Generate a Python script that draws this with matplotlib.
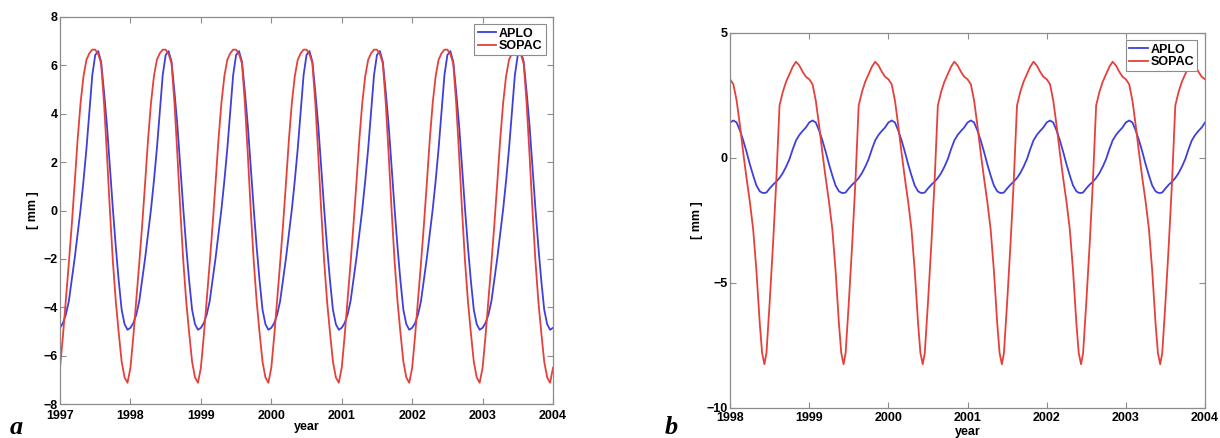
import numpy as np
import matplotlib
matplotlib.use("Agg")
import matplotlib.pyplot as plt

# ---------------- data (one seasonal cycle; the figure repeats it every year)
# Panel a: 1997-2004, phases within a year
phase_a = [0.0, 0.0417, 0.0833, 0.125, 0.1667, 0.2083, 0.25, 0.2917, 0.3333, 0.375, 0.4167, 0.4583,
           0.5, 0.5417, 0.5833, 0.625, 0.6667, 0.7083, 0.75, 0.7917, 0.8333, 0.875, 0.9167, 0.9583]
aplo_a_cycle = [-4.85, -4.65, -4.3, -3.75, -2.85, -1.97, -0.96, 0.05, 1.23, 2.55, 4.06, 5.6,
                6.43, 6.59, 6.15, 4.9, 3.5, 1.8, 0.08, -1.5, -2.9, -4.1, -4.7, -4.93]
sopac_a_cycle = [-6.5, -5.17, -3.7, -2.18, -0.59, 1.14, 2.94, 4.45, 5.55, 6.23, 6.5, 6.65,
                 6.65, 6.47, 6.08, 4.44, 2.29, 0.0, -2.08, -3.75, -5.05, -6.25, -6.9, -7.12]
years_a = [1997, 1998, 1999, 2000, 2001, 2002, 2003]

# Panel b: 1998-2004
phase_b = [0.0, 0.042, 0.083, 0.125, 0.167, 0.208, 0.25, 0.292, 0.333, 0.375, 0.405, 0.434, 0.46,
           0.5, 0.542, 0.583, 0.625, 0.667, 0.708, 0.75, 0.792, 0.833, 0.875, 0.917, 0.958]
aplo_b_cycle = [1.42, 1.5, 1.42, 1.1, 0.7, 0.25, -0.25, -0.7, -1.1, -1.33, -1.39, -1.4, -1.38,
                -1.22, -1.07, -0.95, -0.8, -0.6, -0.35, -0.05, 0.35, 0.7, 0.92, 1.08, 1.22]
sopac_b_cycle = [3.15, 2.95, 2.3, 1.3, 0.2, -0.8, -1.75, -2.85, -4.5, -6.6, -7.8, -8.25, -7.8,
                 -5.8, -3.5, -1.0, 2.1, 2.65, 3.05, 3.35, 3.65, 3.85, 3.7, 3.45, 3.25]
years_b = [1998, 1999, 2000, 2001, 2002, 2003]

xticks_a = [1997, 1998, 1999, 2000, 2001, 2002, 2003, 2004]
yticks_a = [-8, -6, -4, -2, 0, 2, 4, 6, 8]
xticks_b = [1998, 1999, 2000, 2001, 2002, 2003, 2004]
yticks_b = [-10, -5, 0, 5]
series_names = ["APLO", "SOPAC"]


def build(years, phase, cycle):
    t = (np.asarray(years, float)[:, None] + np.asarray(phase)[None, :]).ravel()
    v = np.tile(np.asarray(cycle, float), len(years))
    t = np.append(t, years[-1] + 1.0)
    v = np.append(v, cycle[0])
    return t, v


BLUE = "#3f3fdc"
RED = "#e6403a"
SPINE = "#8c8c8c"

plt.rcParams["font.family"] = ["Liberation Sans", "DejaVu Sans"]

fig = plt.figure(figsize=(12.2, 4.38), dpi=100)
axa = fig.add_axes([0.0492, 0.0776, 0.4041, 0.8836])
axb = fig.add_axes([0.5984, 0.0685, 0.3893, 0.8562])


def style(ax, xticks, yticks, xlim, ylim, xpad, ypad):
    ax.set_xlim(*xlim)
    ax.set_ylim(*ylim)
    ax.set_xticks(xticks)
    ax.set_yticks(yticks)
    ax.set_xticklabels([str(v) for v in xticks])
    ax.set_yticklabels([("\u2212" + str(-v)) if v < 0 else str(v) for v in yticks])
    for s in ax.spines.values():
        s.set_color(SPINE)
        s.set_linewidth(0.9)
    ax.tick_params(axis="both", direction="in", length=4, width=0.8, color=SPINE,
                   labelsize=9, top=True, right=True)
    ax.tick_params(axis="x", pad=xpad)
    ax.tick_params(axis="y", pad=ypad)
    for lab in ax.get_xticklabels() + ax.get_yticklabels():
        lab.set_fontweight("bold")


# panel a
ta, aa = build(years_a, phase_a, aplo_a_cycle)
_, sa = build(years_a, phase_a, sopac_a_cycle)
axa.plot(ta, aa, color=BLUE, lw=1.3, label=series_names[0])
axa.plot(ta, sa, color=RED, lw=1.3, label=series_names[1])
style(axa, xticks_a, yticks_a, (1997, 2004), (-8, 8), 4.5, 1.5)
axa.set_ylabel("[ mm ]", fontsize=9, fontweight="bold")
axa.yaxis.set_label_coords(-0.043, 0.5)
axa.set_xlabel("year", fontsize=9, fontweight="bold", va="top")
axa.xaxis.set_label_coords(0.501, -0.043)

# panel b
tb, ab = build(years_b, phase_b, aplo_b_cycle)
_, sb = build(years_b, phase_b, sopac_b_cycle)
axb.plot(tb, ab, color=BLUE, lw=1.3, label=series_names[0])
axb.plot(tb, sb, color=RED, lw=1.3, label=series_names[1])
style(axb, xticks_b, yticks_b, (1998, 2004), (-10, 5), 3.0, 2.0)
axb.set_ylabel("[ mm ]", fontsize=9, fontweight="bold")
axb.yaxis.set_label_coords(-0.057, 0.5)
axb.set_xlabel("year", fontsize=9, fontweight="bold", va="top")
axb.xaxis.set_label_coords(0.501, -0.047)

for ax in (axa, axb):
    leg = ax.legend(loc="upper right", fontsize=9, frameon=True, fancybox=False,
                    borderpad=0.25, labelspacing=0.05, handlelength=1.5,
                    handletextpad=0.2, borderaxespad=0.6, framealpha=1.0,
                    prop={"weight": "bold", "size": 9})
    leg.get_frame().set_edgecolor(SPINE)
    leg.get_frame().set_linewidth(0.8)

fig.text(0.008, 0.009, "a", fontsize=19, fontweight="bold", fontstyle="italic",
         family=["Liberation Serif", "DejaVu Serif"], va="baseline")
fig.text(0.545, 0.009, "b", fontsize=19, fontweight="bold", fontstyle="italic",
         family=["Liberation Serif", "DejaVu Serif"], va="baseline")

fig.savefig("out.png", dpi=100)
